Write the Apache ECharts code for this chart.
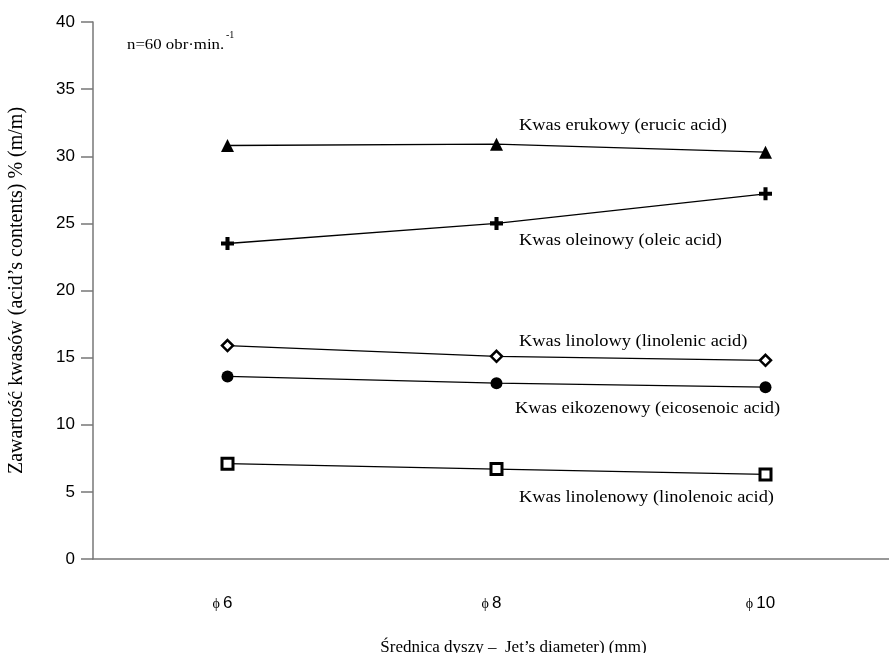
<!DOCTYPE html>
<html>
<head>
<meta charset="utf-8">
<script src="https://cdn.jsdelivr.net/npm/echarts@6/dist/echarts.min.js"></script>
<style>html,body{margin:0;padding:0;background:#fff;}#c{width:889px;height:653px;}</style>
</head>
<body>
<div id="c"></div>
<script>
var categories = ['6', '8', '10'];
var yTicks = [0, 5, 10, 15, 20, 25, 30, 35, 40];
var erucic = [30.8, 30.9, 30.3];
var oleic = [23.5, 25.0, 27.2];
var linolenic = [15.9, 15.1, 14.8];
var eicosenoic = [13.6, 13.1, 12.8];
var linolenoic = [7.1, 6.7, 6.3];
var seriesNames = ['Kwas erukowy (erucic acid)', 'Kwas oleinowy (oleic acid)', 'Kwas linolowy (linolenic acid)', 'Kwas eikozenowy (eicosenoic acid)', 'Kwas linolenowy (linolenoic acid)'];

var chart = echarts.init(document.getElementById('c'));
var serif = '"Liberation Serif", "Times New Roman", serif';
var sans = '"Liberation Sans", Arial, sans-serif';
var plus = 'path://M-1,-3.2H1V-1H3.2V1H1V3.2H-1V1H-3.2V-1H-1Z';

function mk(name, data, symbol, size, fill, bw) {
  return {
    type: 'line', name: name, data: data, symbol: symbol, symbolSize: size,
    showAllSymbol: true, animation: false, z: 3,
    lineStyle: { color: '#000', width: 1.3 },
    itemStyle: { color: fill, borderColor: '#000', borderWidth: bw },
    emphasis: { disabled: true }
  };
}
function note(text, x, y) {
  return { type: 'text', x: x, y: y, scaleX: 1.15, z: 10,
    style: { text: text, font: '16px ' + serif, fill: '#000', align: 'left', verticalAlign: 'middle' } };
}

chart.setOption({
  backgroundColor: '#fff',
  animation: false,
  grid: { left: 93, right: -11, top: 22, bottom: 94, containLabel: false, outerBoundsMode: 'none' },
  xAxis: {
    type: 'category', data: categories, boundaryGap: true,
    axisLine: { lineStyle: { color: '#777', width: 1.5 } },
    axisTick: { alignWithLabel: true, length: 23, lineStyle: { color: '#222', width: 1 } },
    axisLabel: {
      margin: 36,
      formatter: function (v) { return '{p|\u03d5}{n|' + v + '}'; },
      rich: {
        p: { fontFamily: serif, fontSize: 14, color: '#000', padding: [2, 3, 0, 0] },
        n: { fontFamily: sans, fontSize: 17, color: '#000', padding: [0, 10, 0, 0] }
      }
    },
    name: '\u015arednica dyszy \u2013  Jet\u2019s diameter) (mm)',
    nameLocation: 'middle', nameGap: 80,
    nameTextStyle: { fontFamily: serif, fontSize: 17, color: '#000', padding: [0, 0, 0, 34] },
    splitLine: { show: false }
  },
  yAxis: {
    type: 'value', min: yTicks[0], max: yTicks[yTicks.length - 1], interval: 5,
    axisLine: { show: true, lineStyle: { color: '#777', width: 1.5 } },
    axisTick: { show: true, length: 12, lineStyle: { color: '#777', width: 1.5 } },
    axisLabel: { margin: 18, fontFamily: sans, fontSize: 17, color: '#000' },
    splitLine: { show: false },
    name: 'Zawarto\u015b\u0107 kwas\u00f3w (acid\u2019s contents) % (m/m)',
    nameLocation: 'middle', nameGap: 66,
    nameTextStyle: { fontFamily: serif, fontSize: 20, color: '#000' }
  },
  series: [
    mk(seriesNames[0], erucic, 'triangle', 13, '#000', 0),
    mk(seriesNames[1], oleic, plus, 13, '#000', 0),
    mk(seriesNames[2], linolenic, 'diamond', 11, '#fff', 2.5),
    mk(seriesNames[3], eicosenoic, 'circle', 12, '#000', 0),
    mk(seriesNames[4], linolenoic, 'rect', 11, '#fff', 3)
  ],
  graphic: [
    note(seriesNames[0], 519, 126),
    note(seriesNames[1], 519, 241),
    note(seriesNames[2], 519, 342),
    note(seriesNames[3], 515, 409),
    note(seriesNames[4], 519, 498),
    { type: 'text', x: 127, y: 45, scaleX: 1.2, style: { text: 'n=60 obr\u00b7min.', font: '14px ' + serif, fill: '#000', verticalAlign: 'middle' } },
    { type: 'text', x: 226, y: 35, style: { text: '-1', font: '10px ' + serif, fill: '#000', verticalAlign: 'middle' } }
  ]
});
</script>
</body>
</html>
